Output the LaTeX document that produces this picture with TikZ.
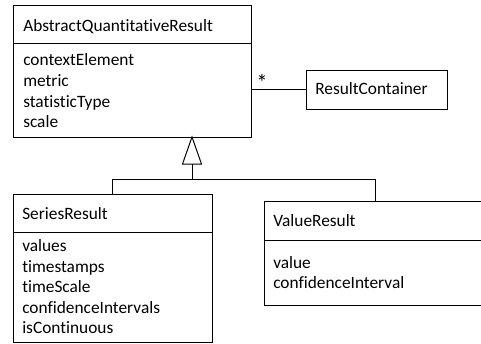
\documentclass[tikz,border=0pt]{standalone}
\usepackage{fontspec}
\setmainfont{Carlito}[Ligatures={NoCommon,NoRare,NoDiscretionary}]
\usetikzlibrary{fit}
\begin{document}
\begin{tikzpicture}[x=0.75pt,y=-0.75pt,
  box/.style={draw, line width=0.75pt, inner sep=0pt},
  lbl/.style={anchor=base west, inner sep=0pt, font=\fontsize{13}{15}\selectfont},
  ln/.style={line width=0.75pt}]
\useasboundingbox (0,0) rectangle (481,343);
% AbstractQuantitativeResult
\node[box, fit={(13,5) (251,137)}] (abs) {};
\draw[ln] (13,43) -- (251,43);
\node[lbl] (absT) at (23,31) {AbstractQuantitativeResult};
\node[lbl] (absA1) at (23,65.5) {contextElement};
\node[lbl] (absA2) at (23,86.5) {metric};
\node[lbl] (absA3) at (23,107.5) {statisticType};
\node[lbl] (absA4) at (23,127.5) {scale};
% ResultContainer
\node[box, fit={(306,70) (447,109)}] (rc) {};
\node[lbl] (rcT) at (315,94.5) {ResultContainer};
\draw[ln] (abs.east |- rc.west) -- (rc.west);
\node[lbl, font=\fontsize{17}{17}\selectfont] (star) at (256,90) {*};
% SeriesResult
\node[box, fit={(13,194) (212,342)}] (sr) {};
\draw[ln] (13,232) -- (212,232);
\node[lbl] (srT) at (22,219.5) {SeriesResult};
\node[lbl] (srA1) at (22,251.5) {values};
\node[lbl] (srA2) at (22,272) {timestamps};
\node[lbl] (srA3) at (22,292.5) {timeScale};
\node[lbl] (srA4) at (22,313) {confidenceIntervals};
\node[lbl] (srA5) at (22,333.5) {isContinuous};
% ValueResult
\node[box, fit={(264,201) (484,305)}] (vr) {};
\draw[ln] (264,240) -- (484,240);
\node[lbl] (vrT) at (273,226.5) {ValueResult};
\node[lbl] (vrA1) at (273,268.5) {value};
\node[lbl] (vrA2) at (273,288.5) {confidenceInterval};
% generalization
\coordinate (apex) at (192,137);
\coordinate (tbl) at (182.5,164);
\coordinate (tbr) at (201.5,164);
\coordinate (tb) at (192,164);
\coordinate (join) at (192,179);
\coordinate (jl) at (112.5,179);
\coordinate (jr) at (375,179);
\draw[ln, line join=miter] (apex) -- (tbl) -- (tbr) -- cycle;
\draw[ln] (tb) -- (join);
\draw[ln] (jl) -- (jr);
\draw[ln] (jl) -- (sr.north -| jl);
\draw[ln] (jr) -- (vr.north -| jr);
\end{tikzpicture}
\end{document}
